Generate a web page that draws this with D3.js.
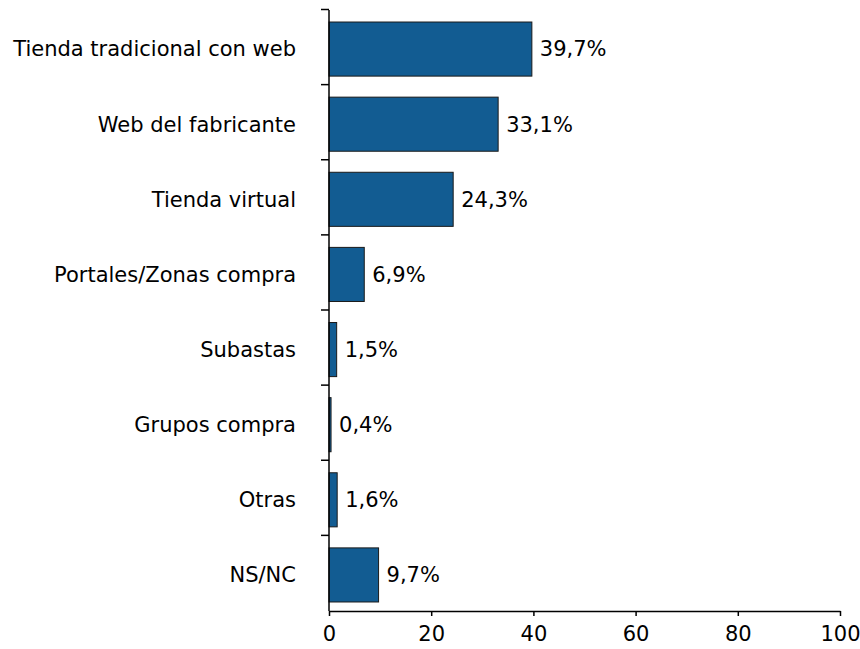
<!DOCTYPE html>
<html>
<head>
<meta charset="utf-8">
<script src="https://cdn.jsdelivr.net/npm/d3@7"></script>
<style>
  body { margin: 0; background: #fff; }
  svg { display: block; font-family: "DejaVu Sans", Verdana, sans-serif; }
</style>
</head>
<body>
<div id="chart"></div>
<script>
// Data
const categories = [
    'Tienda tradicional con web',
    'Web del fabricante',
    'Tienda virtual',
    'Portales/Zonas compra',
    'Subastas',
    'Grupos compra',
    'Otras',
    'NS/NC'
];
const values = [39.7, 33.1, 24.3, 6.9, 1.5, 0.4, 1.6, 9.7];
const xTicks = [0, 20, 40, 60, 80, 100];

const width = 860, height = 649;
const margin = { top: 10, right: 20, bottom: 38, left: 329 };
const axisY = 611;

const svg = d3.select('#chart')
    .append('svg')
    .attr('width', width)
    .attr('height', height);

const x = d3.scaleLinear()
    .domain([0, 100])
    .range([margin.left, 840]);

const y = d3.scaleBand()
    .domain(categories)
    .range([margin.top, axisY])
    .paddingInner(0.28)
    .paddingOuter(0.14);

const fmt = v => d3.format('.1f')(v).replace('.', ',') + '%';

// Bars
svg.selectAll('.bar')
    .data(values)
    .enter()
    .append('rect')
    .attr('class', 'bar')
    .attr('x', x(0))
    .attr('y', (d, i) => y(categories[i]) + 1.5)
    .attr('width', d => x(d) - x(0))
    .attr('height', y.bandwidth())
    .attr('fill', '#125c92')
    .attr('stroke', '#1a1a1a')
    .attr('stroke-width', 1);

// Value labels
svg.selectAll('.val')
    .data(values)
    .enter()
    .append('text')
    .attr('class', 'val')
    .attr('x', d => x(d) + 8)
    .attr('y', (d, i) => y(categories[i]) + 1.5 + y.bandwidth() / 2)
    .attr('dy', '0.35em')
    .style('font-size', '21px')
    .style('fill', '#000')
    .text(fmt);

// Y axis: ticks on band boundaries, labels at band centers
const yAxisG = svg.append('g');
yAxisG.append('line')
    .attr('x1', x(0)).attr('x2', x(0))
    .attr('y1', margin.top).attr('y2', axisY)
    .attr('stroke', '#000').attr('stroke-width', 1.5);

const bounds = categories.map((d, i) => margin.top + i * y.step() * (1 - 0) );
yAxisG.selectAll('.ytick')
    .data(categories)
    .enter()
    .append('line')
    .attr('x1', x(0) - 8).attr('x2', x(0))
    .attr('y1', d => y(d) - y.step() * y.paddingInner() / 2 - 0.5)
    .attr('y2', d => y(d) - y.step() * y.paddingInner() / 2 - 0.5)
    .attr('stroke', '#000').attr('stroke-width', 1.5);

yAxisG.selectAll('.ylab')
    .data(categories)
    .enter()
    .append('text')
    .attr('x', 296)
    .attr('y', d => y(d) + 1.5 + y.bandwidth() / 2)
    .attr('dy', '0.35em')
    .attr('text-anchor', 'end')
    .style('font-size', '21px')
    .style('fill', '#000')
    .text(d => d);

// X axis
const xAxis = d3.axisBottom(x)
    .tickValues(xTicks)
    .tickSize(5)
    .tickSizeOuter(0)
    .tickPadding(10);

const xg = svg.append('g')
    .attr('transform', `translate(0,${axisY})`)
    .call(xAxis);
xg.select('.domain').attr('stroke', '#000').attr('stroke-width', 1.5);
xg.selectAll('.tick line').attr('stroke', '#000').attr('stroke-width', 1.5);
xg.selectAll('text')
    .style('font-size', '21px')
    .style('font-family', '"DejaVu Sans", Verdana, sans-serif')
    .style('fill', '#000');
</script>
</body>
</html>
